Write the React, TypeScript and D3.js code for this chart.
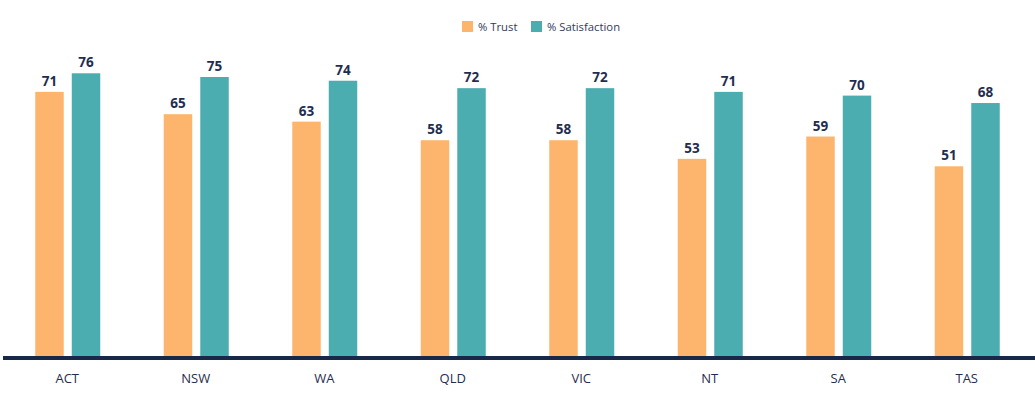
import React, { useEffect, useRef } from "react";
import * as d3 from "d3";

const states = ["ACT", "NSW", "WA", "QLD", "VIC", "NT", "SA", "TAS"];
const trust = [71, 65, 63, 58, 58, 53, 59, 51];
const satisfaction = [76, 75, 74, 72, 72, 71, 70, 68];
const seriesNames = ["% Trust", "% Satisfaction"];
const colors = ["#FDB56D", "#4BADB0"];

const App = () => {
  const svgRef = useRef<SVGSVGElement>(null);

  useEffect(() => {
    const width = 1035;
    const height = 395;
    const baseline = 356;

    const svg = d3.select(svgRef.current)
      .attr("width", width)
      .attr("height", height)
      .style("font-family", "'Segoe UI', 'Open Sans', sans-serif");
    svg.selectAll("*").remove();

    const x0 = d3.scaleBand().domain(states).range([3, 1031]);
    const x1 = d3.scaleBand().domain(seriesNames).range([x0.bandwidth() / 2 - 32, x0.bandwidth() / 2 + 33]).paddingInner(0.22);
    const y = d3.scaleLinear().domain([0, 100]).range([baseline, baseline - 372]);

    const rows = states.map((s, i) => ({ state: s, vals: [trust[i], satisfaction[i]] }));

    const g = svg.selectAll(".grp").data(rows).join("g")
      .attr("class", "grp")
      .attr("transform", d => `translate(${x0(d.state)},0)`);

    g.selectAll("rect")
      .data(d => d.vals.map((v, k) => ({ v, k })))
      .join("rect")
      .attr("x", d => x1(seriesNames[d.k])!)
      .attr("y", d => y(d.v))
      .attr("width", x1.bandwidth())
      .attr("height", d => baseline - y(d.v))
      .attr("fill", d => colors[d.k]);

    // value labels above each bar
    g.selectAll("text.val")
      .data(d => d.vals.map((v, k) => ({ v, k })))
      .join("text")
      .attr("class", "val")
      .attr("x", d => x1(seriesNames[d.k])! + x1.bandwidth() / 2)
      .attr("y", d => y(d.v) - 6)
      .attr("text-anchor", "middle")
      .attr("font-size", 13.5)
      .attr("font-weight", "bold")
      .attr("fill", "#1F2D4F")
      .text(d => d.v);

    svg.append("line")
      .attr("x1", 3).attr("x2", width)
      .attr("y1", baseline + 2).attr("y2", baseline + 2)
      .attr("stroke", "#182848").attr("stroke-width", 4);

    svg.selectAll("text.cat")
      .data(states)
      .join("text")
      .attr("class", "cat")
      .attr("x", d => x0(d)! + x0.bandwidth() / 2)
      .attr("y", 383)
      .attr("text-anchor", "middle")
      .attr("font-size", 13)
      .attr("fill", "#1F2D4F")
      .text(d => d);

    const legendX = [462, 531];
    const legend = svg.selectAll(".leg").data(seriesNames).join("g")
      .attr("class", "leg")
      .attr("transform", (d, i) => `translate(${legendX[i]},21)`);
    legend.append("rect").attr("width", 11).attr("height", 11).attr("fill", (d, i) => colors[i]);
    legend.append("text").attr("x", 16).attr("y", 10).attr("font-size", 11.3)
      .attr("fill", "#333a5a").text(d => d);
  }, []);

  return <svg ref={svgRef} style={{ position: "absolute", left: 0, top: 0 }} />;
};

export default App;
